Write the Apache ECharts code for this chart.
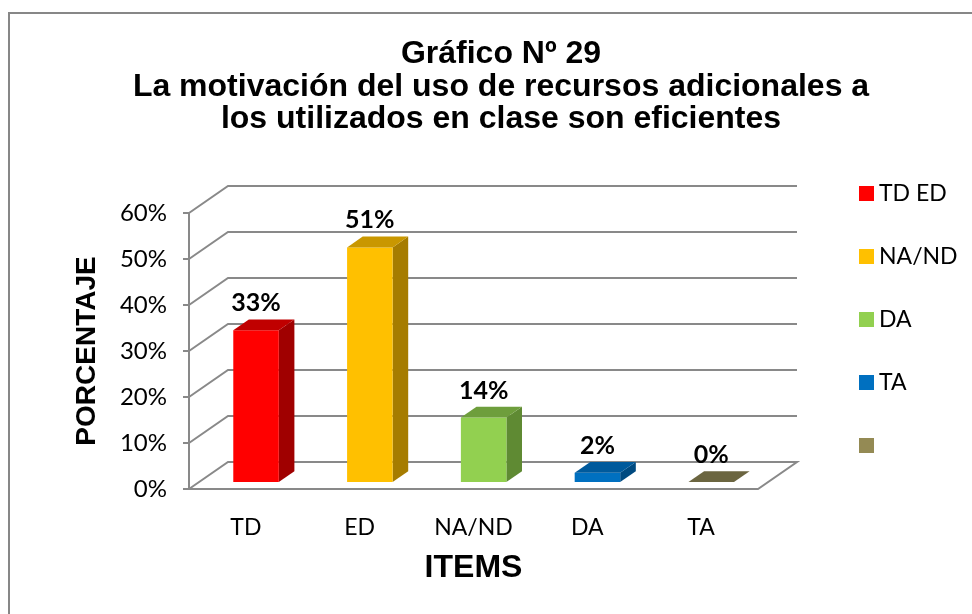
<!DOCTYPE html>
<html>
<head>
<meta charset="utf-8">
<script src="https://cdn.jsdelivr.net/npm/echarts@6/dist/echarts.min.js"></script>
<style>
  html, body { margin: 0; padding: 0; background: #fff; }
  #main { width: 972px; height: 614px; }
</style>
</head>
<body>
<div id="main"></div>
<script>
// datos del grafico
var categories = ['TD', 'ED', 'NA/ND', 'DA', 'TA'];
var values = [33, 51, 14, 2, 0];
var legendNames = ['TD ED', 'NA/ND', 'DA', 'TA', ' '];
var yTicks = [0, 10, 20, 30, 40, 50, 60];

// colores: frente, arriba, lado
var colors = [
  ['#FF0000', '#C00000', '#A00000'],
  ['#FFC000', '#C99700', '#A67C00'],
  ['#92D050', '#6E9E3C', '#5F8A33'],
  ['#0070C0', '#005A9C', '#004A80'],
  ['#948A54', '#6B6540', '#5A5536']
];

var DX = 39, DY = -27;   // profundidad del piso
var F0 = 0.26, F1 = 0.66;
var gridColor = '#898989';

var myChart = echarts.init(document.getElementById('main'));

function gridLines(params, api) {
  var cs = params.coordSys;
  var v = api.value(1);
  var y = api.coord([0, v])[1];
  var pts = [[cs.x, y], [cs.x + DX, y + DY], [cs.x + cs.width + DX, y + DY]];
  if (v === 0) {
    pts.push([cs.x + cs.width, y], [cs.x, y]);
  }
  return {
    type: 'polyline',
    shape: { points: pts },
    style: { stroke: gridColor, lineWidth: 2, fill: null }
  };
}

function makeBar(ci) {
  return function (params, api) {
    var idx = api.value(0);
    var val = api.value(1);
    var base = api.coord([idx, 0]);
    var top = api.coord([idx, val]);
    var w = api.size([1, 0])[0] * 0.4;
    var xl = base[0] - w / 2, xr = base[0] + w / 2;
    var y0 = base[1], y1 = top[1];
    var ax = F0 * DX, ay = F0 * DY, bx = F1 * DX, by = F1 * DY;
    var c = colors[ci];
    var children = [];
    if (y0 - y1 > 0.5) {
      children.push({
        type: 'polygon',
        shape: { points: [[xr + ax, y1 + ay], [xr + bx, y1 + by], [xr + bx, y0 + by], [xr + ax, y0 + ay]] },
        style: { fill: c[2] }
      });
      children.push({
        type: 'rect',
        shape: { x: xl + ax, y: y1 + ay, width: w, height: y0 - y1 },
        style: { fill: c[0] }
      });
    }
    children.push({
      type: 'polygon',
      shape: { points: [[xl + ax, y1 + ay], [xr + ax, y1 + ay], [xr + bx, y1 + by], [xl + bx, y1 + by]] },
      style: { fill: c[1] }
    });
    children.push({
      type: 'text',
      x: base[0] + ax,
      y: y1 + ay - 27,
      style: {
        text: val + '%',
        fill: '#000',
        font: 'bold 25px Lato',
        align: 'center',
        verticalAlign: 'middle'
      }
    });
    return { type: 'group', children: children };
  };
}

var series = [{
  type: 'custom',
  name: 'grid',
  z: 1,
  silent: true,
  renderItem: gridLines,
  data: yTicks.map(function (v) { return [0, v]; })
}];
for (var i = 0; i < categories.length; i++) {
  series.push({
    type: 'custom',
    name: legendNames[i],
    z: 2,
    color: colors[i][0],
    renderItem: makeBar(i),
    data: [[i, values[i]]]
  });
}

var option = {
  animation: false,
  backgroundColor: '#fff',
  title: {
    text: 'Gráfico Nº 29\nLa motivación del uso de recursos adicionales a\nlos utilizados en clase son eficientes',
    left: 501,
    textAlign: 'center',
    top: 38,
    padding: 0,
    textStyle: {
      fontFamily: 'Liberation Sans, Arial',
      fontWeight: 'bold',
      fontSize: 32,
      lineHeight: 32.5,
      color: '#000'
    }
  },
  legend: {
    data: legendNames.map(function (n, k) {
      return { name: n, itemStyle: { color: colors[k][0] } };
    }),
    orient: 'vertical',
    left: 854,
    top: 177,
    icon: 'rect',
    itemWidth: 15,
    itemHeight: 15,
    itemGap: 40,
    selectedMode: false,
    textStyle: { fontFamily: 'Lato', fontSize: 23, color: '#000' }
  },
  grid: { left: 189, top: 213, width: 569, height: 276 },
  xAxis: {
    type: 'category',
    data: categories,
    name: 'ITEMS',
    nameLocation: 'middle',
    nameGap: 63,
    nameTextStyle: { fontFamily: 'Liberation Sans, Arial', fontWeight: 'bold', fontSize: 32, color: '#000' },
    axisLine: { show: false },
    axisTick: { show: false },
    axisLabel: { margin: 27, fontFamily: 'Lato', fontSize: 23, color: '#000' },
    splitLine: { show: false }
  },
  yAxis: {
    type: 'value',
    min: 0,
    max: 60,
    interval: 10,
    name: 'PORCENTAJE',
    nameLocation: 'middle',
    nameRotate: 90,
    nameGap: 88,
    nameTextStyle: { fontFamily: 'Liberation Sans, Arial', fontWeight: 'bold', fontSize: 28, color: '#000' },
    axisLine: { show: true, lineStyle: { color: gridColor, width: 2 } },
    axisTick: { show: true, length: 6, lineStyle: { color: gridColor, width: 2 } },
    axisLabel: { margin: 22, fontFamily: 'Lato', fontSize: 24, color: '#000', formatter: '{value}%' },
    splitLine: { show: false }
  },
  graphic: [{
    type: 'polyline',
    shape: { points: [[9, 614], [9, 13], [972, 13]] },
    style: { stroke: '#878787', lineWidth: 2, fill: null },
    silent: true
  }],
  series: series
};
myChart.setOption(option);
</script>
</body>
</html>
